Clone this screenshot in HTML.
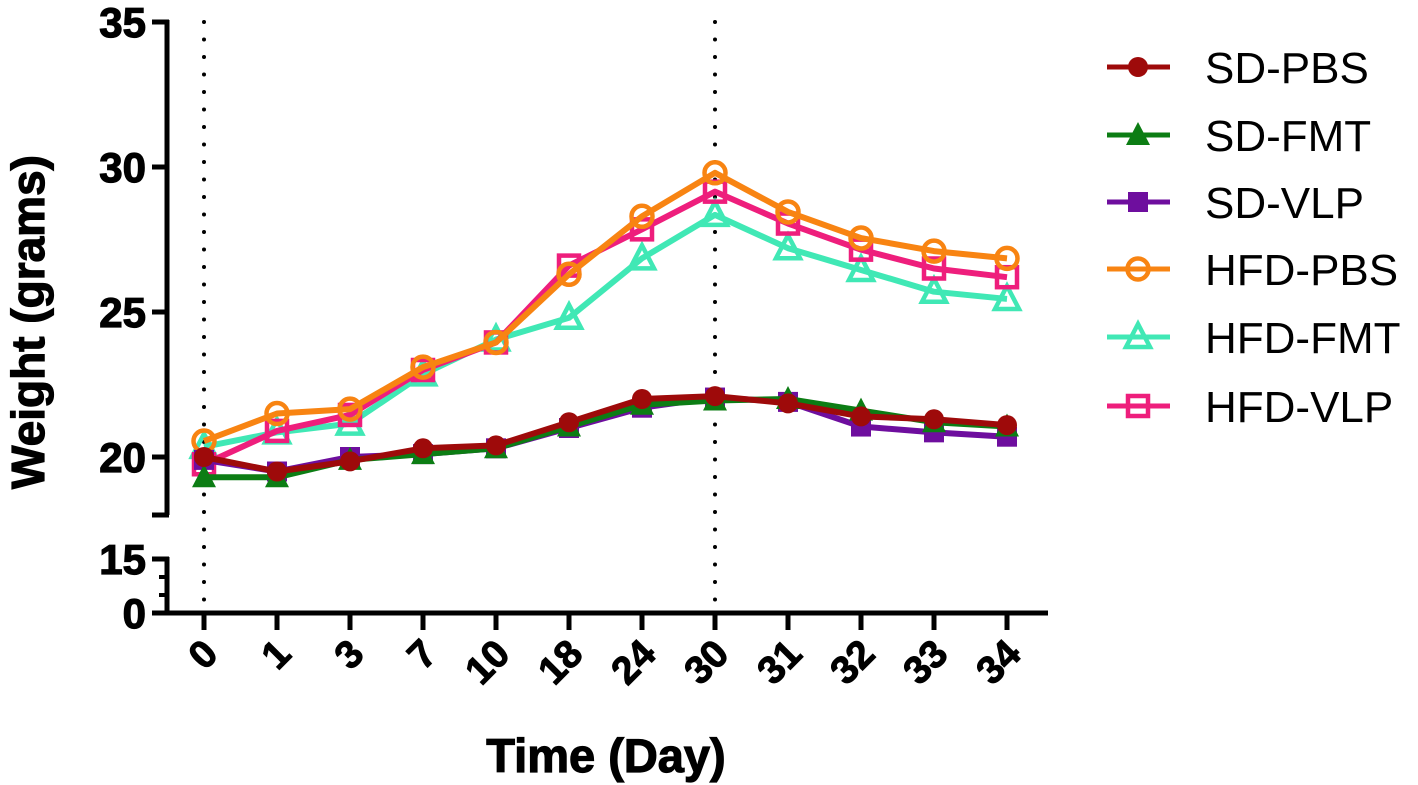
<!DOCTYPE html>
<html><head><meta charset="utf-8"><style>
html,body{margin:0;padding:0;background:#fff;}
svg{display:block;font-family:"Liberation Sans",Arial,sans-serif;}
</style></head><body>
<svg id="chart" width="1418" height="785" viewBox="0 0 1418 785" xmlns="http://www.w3.org/2000/svg"></svg>
<script>
const categories=["0","1","3","7","10","18","24","30","31","32","33","34"];
const sdPbs=[20.0,19.5,19.85,20.3,20.4,21.2,22.0,22.1,21.85,21.4,21.3,21.1];
const sdFmt=[19.3,19.3,19.9,20.1,20.3,21.05,21.8,21.95,22.0,21.6,21.2,21.05];
const sdVlp=[19.9,19.5,20.0,20.1,20.3,21.0,21.7,22.05,21.9,21.05,20.85,20.7];
const hfdPbs=[20.55,21.5,21.65,23.1,23.95,26.3,28.3,29.8,28.45,27.55,27.1,26.85];
const hfdFmt=[20.35,20.85,21.15,22.85,24.05,24.8,26.85,28.35,27.2,26.45,25.7,25.45];
const hfdVlp=[19.75,20.9,21.45,23.0,23.95,26.6,27.85,29.15,28.05,27.15,26.5,26.2];
const upperTicks=[20,25,30,35];
const lowerTicks=[0,15];
const seriesNames=["SD-PBS","SD-FMT","SD-VLP","HFD-PBS","HFD-FMT","HFD-VLP"];

const NS="http://www.w3.org/2000/svg";
const svg=document.getElementById('chart');
function el(t,a,p){const e=document.createElementNS(NS,t);for(const k in a)e.setAttribute(k,a[k]);(p||svg).appendChild(e);return e;}
const x=i=>204+i*73.0;
const y=v=>457-(v-20)*29;
const yl=v=>613-v*(54/15);

let ax=el('line',{x1:167,y1:20,x2:167,y2:515,stroke:'#000','stroke-width':5});

el('line',{x1:152,y1:515,x2:169,y2:515,stroke:'#000','stroke-width':5});
upperTicks.forEach(v=>{
  el('line',{x1:152,y1:y(v),x2:169,y2:y(v),stroke:'#000','stroke-width':5});
  const t=el('text',{x:146,y:y(v)+15,'text-anchor':'end','font-size':42,'font-weight':'bold','stroke':'#000','stroke-width':1.2});t.textContent=v;
  
});
let ax2=el('line',{x1:167,y1:557,x2:167,y2:615,stroke:'#000','stroke-width':5});

lowerTicks.forEach(v=>{
  el('line',{x1:152,y1:yl(v),x2:169,y2:yl(v),stroke:'#000','stroke-width':5});
  const t=el('text',{x:146,y:yl(v)+15,'text-anchor':'end','font-size':42,'font-weight':'bold','stroke':'#000','stroke-width':1.2});t.textContent=v;
  
});
[5,10].forEach(v=>el('line',{x1:159,y1:yl(v),x2:169,y2:yl(v),stroke:'#000','stroke-width':4}));
let xa=el('line',{x1:152,y1:613,x2:1048,y2:613,stroke:'#000','stroke-width':5});

categories.forEach((c,i)=>{
  el('line',{x1:x(i),y1:613,x2:x(i),y2:630,stroke:'#000','stroke-width':5});
  const ax_=x(i)+16, ay_=656;
  const t=el('text',{x:ax_,y:ay_,'text-anchor':'end','font-size':39,'font-weight':'bold','stroke':'#000','stroke-width':1,transform:`rotate(-45 ${ax_} ${ay_})`});t.textContent=c;
  
});
[0,7].forEach(i=>{const l=el('line',{x1:x(i),y1:22,x2:x(i),y2:605,stroke:'#000','stroke-width':4,'stroke-dasharray':'0 17.5','stroke-linecap':'round'});
  });

const defs=[
 {d:hfdFmt,c:'#40E8B5',m:'tri',f:false},
 {d:hfdVlp,c:'#EE1E7C',m:'sq',f:false},
 {d:hfdPbs,c:'#F88412',m:'circ',f:false},
 {d:sdVlp,c:'#6E0E9E',m:'sq',f:true},
 {d:sdFmt,c:'#0C7D14',m:'tri',f:true},
 {d:sdPbs,c:'#9E0A0A',m:'circ',f:true},
];
function marker(g,m,cx,cy,c,f){
  const a=f?{fill:c}:{fill:'none',stroke:c,'stroke-width':4.5};
  if(m==='circ')el('circle',Object.assign({cx,cy,r:f?10:10.5},a),g);
  else if(m==='sq')el('rect',Object.assign({x:cx-10,y:cy-10,width:20,height:20},a),g);
  else el('polygon',Object.assign({points:`${cx},${cy-13} ${cx-12},${cy+10} ${cx+12},${cy+10}`},a),g);
}
defs.forEach(s=>{
  const g=el('g',{});
  
  el('polyline',{points:s.d.map((v,i)=>x(i)+','+y(v)).join(' '),fill:'none',stroke:s.c,'stroke-width':6,'stroke-linejoin':'round'},g);
  s.d.forEach((v,i)=>marker(g,s.m,x(i),y(v),s.c,s.f));
});
const legOrder=[5,4,3,2,0,1];
const legY=[67,135,202,269,337,406];
legOrder.forEach((di,k)=>{
  const s=defs[di];const g=el('g',{});
  
  el('line',{x1:1107,y1:legY[k],x2:1170,y2:legY[k],stroke:s.c,'stroke-width':5},g);
  marker(g,s.m,1138,legY[k],s.c,s.f);
  const t=el('text',{x:1205,y:legY[k]+16,'font-size':44},g);t.textContent=seriesNames[k];
});
let yt=el('text',{x:0,y:0,'font-size':46,'font-weight':'bold','text-anchor':'middle','stroke':'#000','stroke-width':1.2,transform:'translate(44 322) rotate(-90)'});yt.textContent='Weight (grams)';

let xt=el('text',{x:606,y:772,'font-size':47,'font-weight':'bold','text-anchor':'middle','stroke':'#000','stroke-width':1.2});xt.textContent='Time (Day)';

</script>
</body></html>
